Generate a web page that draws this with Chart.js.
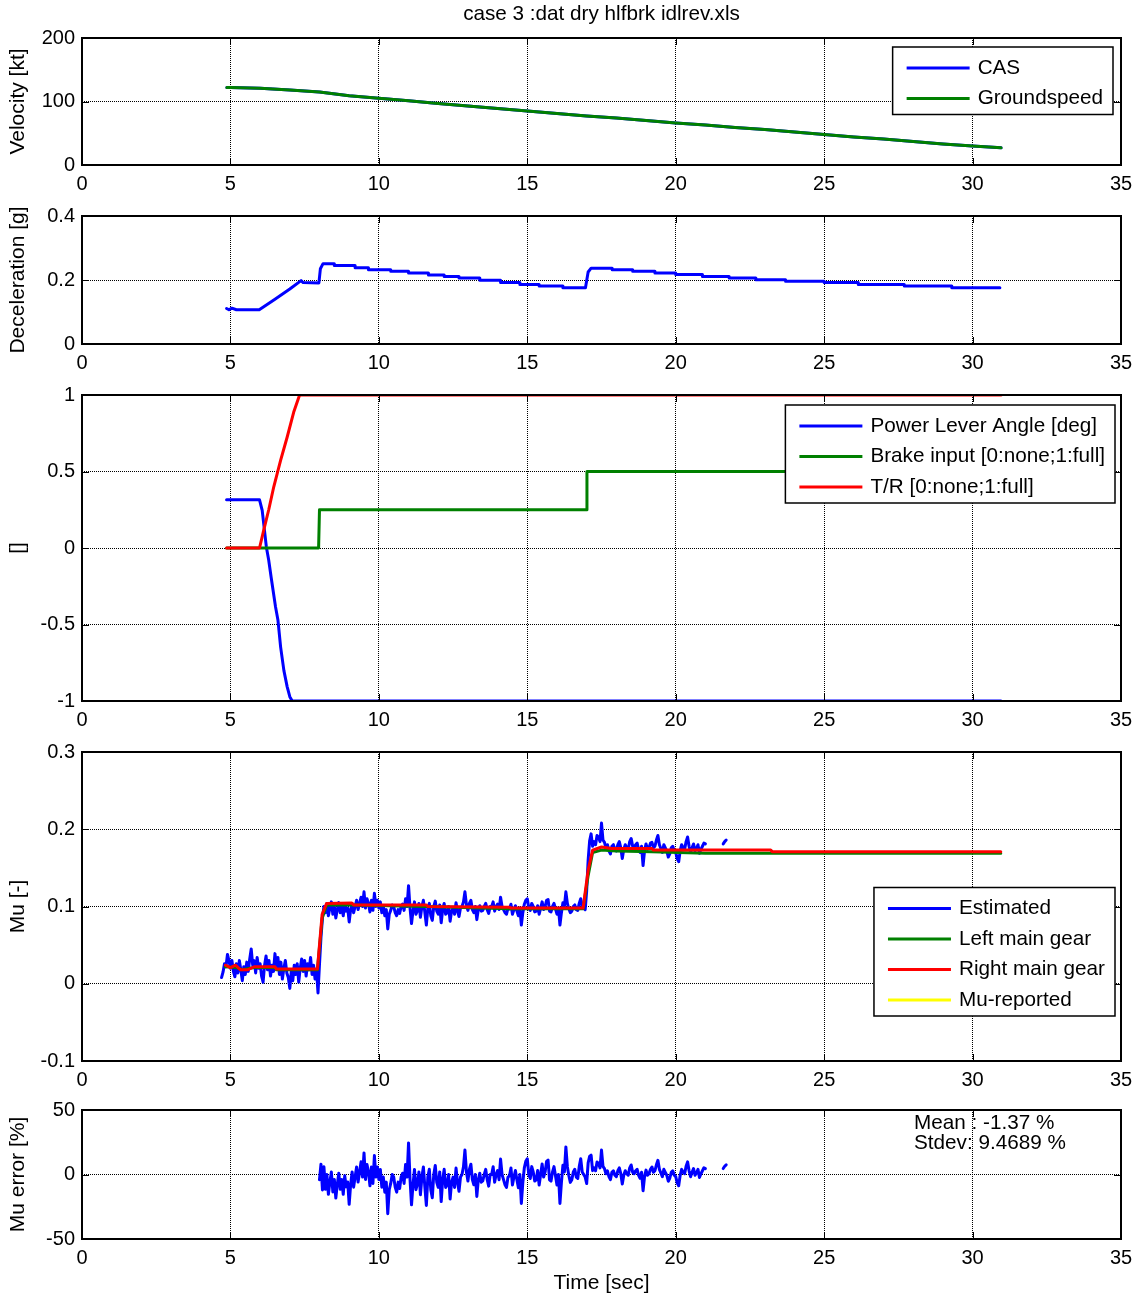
<!DOCTYPE html>
<html>
<head>
<meta charset="utf-8">
<title>case 3 :dat dry hlfbrk idlrev.xls</title>
<script src="https://cdn.jsdelivr.net/npm/chart.js@4.4.1/dist/chart.umd.min.js"></script>
<style>
  body { margin: 0; background: #fff; width: 1143px; height: 1302px; position: relative; overflow: hidden; }
  canvas { position: absolute; left: 0; }
</style>
</head>
<body>
<canvas id="velChart"></canvas>
<canvas id="decelChart"></canvas>
<canvas id="ctrlChart"></canvas>
<canvas id="muChart"></canvas>
<canvas id="errChart"></canvas>
<script>
// ---- run data (time in sec) ----
var velT  = [4.88, 5, 6, 7, 8, 9, 10, 11, 12, 13, 14, 15, 16, 17, 18, 19, 20, 21, 22, 23, 24, 25, 26, 27, 28, 29, 30, 30.96];
var casKt = [122, 122, 121, 118, 115, 109, 105, 101, 97, 93, 89, 85, 81, 77, 74, 70, 66, 63, 59, 56, 52, 48, 44, 41, 37, 33, 30, 27];
var gsKt  = [122, 122, 121, 118, 115, 109, 105, 101, 97, 93, 89, 85, 81, 77, 74, 70, 66, 63, 59, 56, 52, 48, 44, 41, 37, 33, 30, 27];

var decelT = [4.87, 4.95, 5.05, 5.2, 5.97, 6.5, 7.0, 7.38, 7.45, 7.98, 8.03, 8.12, 8.5, 8.5, 9.2, 9.2, 9.65, 9.65, 10.4, 10.4, 11.0, 11.0, 11.67, 11.67, 12.2, 12.2, 12.7, 12.7, 13.4, 13.4, 14.1, 14.1, 14.75, 14.75, 15.4, 15.4, 16.2, 16.2, 16.96, 17.05, 17.15, 17.86, 17.86, 18.55, 18.55, 19.3, 19.3, 20.0, 20.0, 20.9, 20.9, 21.8, 21.8, 22.7, 22.7, 23.7, 23.7, 25.0, 25.0, 26.15, 26.15, 27.7, 27.7, 29.3, 29.3, 30.92];
var decelG = [0.111, 0.107, 0.112, 0.107, 0.107, 0.140, 0.172, 0.198, 0.192, 0.191, 0.235, 0.251, 0.251, 0.245, 0.245, 0.238, 0.238, 0.232, 0.232, 0.227, 0.227, 0.222, 0.222, 0.216, 0.216, 0.211, 0.211, 0.206, 0.206, 0.199, 0.199, 0.192, 0.192, 0.186, 0.186, 0.181, 0.181, 0.176, 0.176, 0.225, 0.237, 0.237, 0.232, 0.232, 0.227, 0.227, 0.222, 0.222, 0.217, 0.217, 0.211, 0.211, 0.206, 0.206, 0.201, 0.201, 0.196, 0.196, 0.192, 0.192, 0.186, 0.186, 0.181, 0.181, 0.176, 0.176];

var plaT   = [4.87, 5.98, 6.07, 6.21, 6.29, 6.37, 6.52, 6.60, 6.69, 6.80, 6.91, 7.00, 7.08, 30.96];
var plaVal = [0.315, 0.315, 0.246, 0.007, -0.08, -0.19, -0.385, -0.47, -0.646, -0.80, -0.906, -0.972, -1.0, -1.0];
var brakeT   = [4.87, 7.97, 8.0, 16.98, 17.01, 30.96];
var brakeVal = [0, 0, 0.25, 0.25, 0.5, 0.5];
var trT   = [4.87, 5.98, 6.12, 6.29, 6.46, 6.69, 6.91, 7.13, 7.33, 30.96];
var trVal = [0, 0, 0.115, 0.25, 0.40, 0.572, 0.724, 0.887, 1.0, 1.0];

// estimated mu, one sample every 0.05 s from 4.70 s (null = no estimate)
var muStart = 4.7, muStep = 0.05;
var muEst = [
  0.008, 0.015, 0.026, 0.022, 0.038, 0.030,
  0.020, 0.030, 0.016, 0.009, 0.026, 0.014, 0.030, 0.018, 0.004, 0.022, 0.012, 0.028, 0.016, 0.032, 0.045, 0.024, 0.030, 0.014, 0.034, 0.020,
  0.026, 0.010, 0.002, 0.024, 0.036, 0.018, 0.030, 0.010, 0.024, 0.016, 0.039, 0.022, 0.034, 0.012, 0.028, 0.006, 0.020, 0.030, 0.014, 0.008,
  -0.006, 0.016, 0.004, 0.024, 0.012, 0.026, 0.002, 0.020, 0.032, 0.016, 0.030, 0.010, 0.026, 0.018, 0.034, 0.012, 0.024, 0.006, 0.018, -0.012,
  0.025, 0.060, 0.085, 0.100, 0.092, 0.104, 0.088, 0.098, 0.106, 0.090, 0.100, 0.085, 0.096, 0.105, 0.092, 0.100, 0.088, 0.103, 0.094, 0.098,
  0.080, 0.096, 0.104, 0.092, 0.100, 0.108, 0.096, 0.104, 0.112, 0.100, 0.119, 0.098, 0.110, 0.104, 0.093, 0.108, 0.095, 0.117, 0.100, 0.108,
  0.098, 0.106, 0.092, 0.100, 0.088, 0.096, 0.071, 0.090, 0.095, 0.102, 0.100, 0.092, 0.088, 0.096, 0.091, 0.100, 0.103, 0.095, 0.110, 0.100,
  0.127, 0.098, 0.078, 0.094, 0.106, 0.090, 0.095, 0.104, 0.086, 0.100, 0.108, 0.092, 0.076, 0.098, 0.104, 0.088, 0.082, 0.100, 0.107, 0.094,
  0.090, 0.102, 0.079, 0.096, 0.104, 0.090, 0.092, 0.100, 0.081, 0.094, 0.098, 0.090, 0.105, 0.094, 0.087, 0.098, 0.100, 0.106, 0.119, 0.102,
  0.095, 0.104, 0.108, 0.096, 0.092, 0.100, 0.083, 0.096, 0.101, 0.094, 0.095, 0.100, 0.104, 0.096, 0.091, 0.100, 0.100, 0.106, 0.094, 0.100,
  0.103, 0.096, 0.112, 0.100, 0.096, 0.092, 0.090, 0.098, 0.097, 0.103, 0.090, 0.096, 0.101, 0.094, 0.088, 0.098, 0.076, 0.092, 0.103, 0.108,
  0.110, 0.098, 0.095, 0.104, 0.100, 0.093, 0.094, 0.101, 0.090, 0.098, 0.106, 0.096, 0.100, 0.108, 0.109, 0.094, 0.093, 0.100, 0.104, 0.097,
  0.090, 0.098, 0.076, 0.092, 0.105, 0.100, 0.119, 0.104, 0.097, 0.092, 0.094, 0.100, 0.102, 0.096, 0.095, 0.104, 0.110, 0.100, 0.098, 0.096,
  0.120, 0.160, 0.185, 0.194, 0.178, 0.184, 0.180, 0.192, 0.190, 0.184, 0.208, 0.186, 0.183, 0.176, 0.180, 0.172, 0.168, 0.178, 0.180, 0.174,
  0.172, 0.180, 0.184, 0.176, 0.162, 0.174, 0.180, 0.176, 0.174, 0.184, 0.188, 0.178, 0.176, 0.180, 0.182, 0.174, 0.170, 0.178, 0.153, 0.172,
  0.181, 0.174, 0.176, 0.182, 0.183, 0.176, 0.178, 0.186, 0.192, 0.180, 0.175, 0.170, 0.180, 0.176, 0.172, 0.164, 0.168, 0.176, 0.178, 0.172,
  0.170, 0.162, 0.158, 0.172, 0.180, 0.176, 0.174, 0.184, 0.190, 0.178, 0.170, 0.176, 0.181, 0.172, 0.175, 0.180, 0.169, 0.174, 0.178, 0.182,
  0.181, null, null, null, null, null, null, null, null, null, null, null, 0.181, 0.184, 0.186
];
var leftT  = [4.83, 5.2, 5.4, 5.8, 6.5, 6.55, 7.93, 8.09, 8.24, 9.1, 11.6, 14.4, 16.88, 17.05, 17.2, 17.5, 18.0, 19.2, 21.0, 30.95];
var leftMu = [0.022, 0.021, 0.018, 0.021, 0.021, 0.018, 0.018, 0.085, 0.102, 0.102, 0.100, 0.097, 0.097, 0.140, 0.170, 0.173, 0.172, 0.171, 0.169, 0.169];
var rightT  = [4.83, 5.0, 5.17, 5.34, 5.57, 5.8, 6.5, 6.55, 7.93, 8.09, 8.24, 9.09, 9.15, 11.6, 11.65, 14.4, 14.45, 16.88, 17.05, 17.2, 17.5, 17.84, 19.2, 19.25, 23.2, 23.25, 30.95];
var rightMu = [0.024, 0.021, 0.024, 0.018, 0.018, 0.022, 0.022, 0.019, 0.019, 0.090, 0.104, 0.1045, 0.102, 0.102, 0.100, 0.099, 0.098, 0.098, 0.147, 0.173, 0.177, 0.175, 0.175, 0.173, 0.173, 0.171, 0.171];

// mu error [%], one sample every 0.05 s from 8.00 s
var errStart = 8.0, errStep = 0.05;
var errPct = [
  -4, 8, -12, 6, -11.5, 0, -15.4, -5.8, 1.9, -13.5, -3.8, -18.3, -7.7, 1.0, -11.5, -3.8, -15.4, -1.0, -9.6, -5.8,
  -23.1, -7.7, 2.0, -9.8, -2.0, 5.9, -5.9, 2.0, 9.8, -2.0, 16.7, -3.9, 7.8, 2.0, -8.8, 5.9, -6.9, 14.7, -2.0, 5.9,
  -3.9, 3.9, -9.8, -2.0, -13.7, -5.9, -30.4, -11.8, -6.9, 0, -2.0, -9.8, -13.7, -5.9, -10.8, -2.0, 1.0, -6.9, 7.8, -2.0,
  24.5, -3.9, -23.5, -7.8, 3.9, -11.8, -6.9, 2.0, -15.7, -2.0, 5.9, -9.8, -24, -2, 4, -12, -18, 0, 7, -6,
  -10, 2, -21, -4, 4, -10, -8, 0, -19, -6, -2, -10, 5, -6, -13, -2, 0, 6, 19, 2,
  -5, 4, 8, -4, -8, 0, -17, -4, 1, -6, -5, 0, 4, -4, -9, 0, 0, 6, -6, 0,
  3, -4, 12, 0, -4, -8, -10, -2, -1, 5.1, -8.2, -2, 3.1, -4.1, -10.2, 0, -22.4, -6.1, 5.1, 10.2,
  12.2, 0, -3.1, 6.1, 2.0, -5.1, -4.1, 3.1, -8.2, 0, 8.2, -2.0, 2.0, 10.2, 11.2, -4.1, -5.1, 2.0, 6.1, -1.0,
  -8.2, 0, -22.4, -6.1, 7.1, 2.0, 21.4, 6.1, -1.0, -6.1, -4.1, 2.0, 4.1, -2.0, -3.1, 6.1, 12.2, 2.0, 0, -2,
  -7, 9, 14, 15, 3, 5.1, 2.9, 9.7, 8.6, 5.1, 18.9, 6.3, 4.6, 0.6, 2.9, -1.7, -4.0, 1.7, 2.9, -0.6,
  -1.7, 2.9, 5.1, 0.6, -7.4, -0.6, 2.9, 0.6, -0.6, 5.1, 7.4, 1.7, 0.6, 2.9, 4.0, -0.6, -2.9, 1.7, -12.6, -1.7,
  3.4, -0.6, 0.6, 4.0, 5.8, 1.7, 2.9, 7.5, 11.0, 4.0, 1.2, -1.7, 4.0, 1.7, -0.6, -5.2, -2.9, 1.7, 2.9, -0.6,
  -1.7, -6.4, -8.7, -0.6, 4.0, 1.7, 0.6, 6.4, 9.8, 2.9, -1.7, 1.7, 4.6, -0.6, 1.2, 4.0, -2.3, 0.6, 2.9, 5.2,
  4.6, null, null, null, null, null, null, null, null, null, null, null, 4.6, 6.4, 7.5
];
var errNotes = ['Mean : -1.37 %', 'Stdev: 9.4689 %'];

var BLUE = '#0000ff', GREEN = '#008000', RED = '#ff0000', YELLOW = '#ffff00';
var FONT = '"Liberation Sans", Arial, Helvetica, sans-serif';

function pts(xs, ys) {
  return xs.map(function (x, i) { return {x: x, y: ys[i]}; });
}
function sampled(t0, dt, ys) {
  return ys.map(function (y, i) { return {x: +(t0 + i * dt).toFixed(2), y: y}; });
}

Chart.defaults.font.family = FONT;
Chart.defaults.font.size = 20;
Chart.defaults.color = '#000';

// box, inner tick marks, in-axes legend and text, like a matlab axes
var matlabAxes = {
  id: 'matlabAxes',
  afterDraw: function (chart, args, opts) {
    var ctx = chart.ctx, a = chart.chartArea, sx = chart.scales.x, sy = chart.scales.y;
    var tl = 7;
    ctx.save();
    ctx.strokeStyle = '#000';
    ctx.lineWidth = 1;
    ctx.beginPath();
    sx.ticks.forEach(function (t) {
      var px = Math.round(sx.getPixelForValue(t.value)) + 0.5;
      ctx.moveTo(px, a.bottom); ctx.lineTo(px, a.bottom - tl);
      ctx.moveTo(px, a.top); ctx.lineTo(px, a.top + tl);
    });
    sy.ticks.forEach(function (t) {
      var py = Math.round(sy.getPixelForValue(t.value)) + 0.5;
      ctx.moveTo(a.left, py); ctx.lineTo(a.left + tl, py);
      ctx.moveTo(a.right, py); ctx.lineTo(a.right - tl, py);
    });
    ctx.stroke();
    ctx.lineWidth = 2;
    ctx.strokeRect(a.left, a.top, a.right - a.left, a.bottom - a.top);

    ctx.font = '20.7px ' + FONT;
    ctx.fillStyle = '#000';
    ctx.textBaseline = 'middle';

    if (opts.title) {
      ctx.textAlign = 'center';
      ctx.fillText(opts.title, (a.left + a.right) / 2, a.top - 24);
    }

    if (opts.legend) {
      var L = opts.legend;
      var items = chart.data.datasets.filter(function (d) { return d.label; });
      var tw = 0;
      items.forEach(function (d) { tw = Math.max(tw, ctx.measureText(d.label).width); });
      var rowH = 30.5;
      var w = 14 + 63 + 8 + tw + 10;
      var h = 21 + (items.length - 1) * rowH + 16;
      var x0 = a.right - L.right - w;
      var y0 = L.top !== undefined ? a.top + L.top : a.bottom - L.bottom - h;
      ctx.fillStyle = '#fff';
      ctx.fillRect(x0, y0, w, h);
      ctx.lineWidth = 1.5;
      ctx.strokeRect(x0, y0, w, h);
      ctx.textAlign = 'left';
      items.forEach(function (d, i) {
        var cy = y0 + 21 + i * rowH;
        ctx.strokeStyle = d.borderColor;
        ctx.lineWidth = 3;
        ctx.beginPath();
        ctx.moveTo(x0 + 14, cy); ctx.lineTo(x0 + 77, cy);
        ctx.stroke();
        ctx.fillStyle = '#000';
        ctx.fillText(d.label, x0 + 85, cy);
      });
    }

    if (opts.notes) {
      ctx.textAlign = 'left';
      ctx.fillStyle = '#000';
      opts.notes.lines.forEach(function (s, i) {
        ctx.fillText(s, a.left + opts.notes.left, a.top + opts.notes.top + i * 20);
      });
    }
    ctx.restore();
  }
};
Chart.register(matlabAxes);

function yFmt(v) { return String(+v.toFixed(2)); }

function panel(id, top, padTop, plotH, xAxisH, yRange, yTitle, datasets, extra, xTitle) {
  var cv = document.getElementById(id);
  cv.width = 1143;
  cv.height = padTop + plotH + xAxisH;
  cv.style.top = top + 'px';
  var xScale = {
    type: 'linear', min: 0, max: 35,
    ticks: { stepSize: 5, maxRotation: 0, padding: 7 },
    grid: { color: '#000', lineWidth: 1, drawTicks: false },
    border: { display: false, dash: [1, 1] },
    afterFit: function (s) { s.height = xAxisH; }
  };
  if (xTitle) xScale.title = { display: true, text: xTitle, font: { size: 21 }, padding: { top: 0, bottom: 6 } };
  return new Chart(cv, {
    type: 'line',
    data: { datasets: datasets },
    options: {
      responsive: false,
      animation: false,
      devicePixelRatio: 1,
      layout: { padding: { top: padTop, right: 22, left: 0, bottom: 0 } },
      elements: { point: { radius: 0 }, line: { borderWidth: 3, tension: 0, borderJoinStyle: 'round', borderCapStyle: 'round' } },
      plugins: { legend: { display: false }, tooltip: { enabled: false }, matlabAxes: extra },
      scales: {
        x: xScale,
        y: {
          min: yRange[0], max: yRange[1],
          ticks: { stepSize: yRange[2], padding: 7, callback: yFmt },
          grid: { color: '#000', lineWidth: 1, drawTicks: false },
          border: { display: false, dash: [1, 1] },
          title: { display: true, text: yTitle, font: { size: 21 }, padding: { top: 6, bottom: 0 } },
          afterFit: function (s) { s.width = 82; }
        }
      }
    }
  });
}

function line(label, color, data, order) {
  return { label: label, data: data, borderColor: color, backgroundColor: color, fill: false, order: order, spanGaps: false };
}

panel('velChart', 0, 38, 127, 38, [0, 200, 100], 'Velocity [kt]', [
  line('CAS', BLUE, pts(velT, casKt), 1),
  line('Groundspeed', GREEN, pts(velT, gsKt), 0)
], { title: 'case 3 :dat dry hlfbrk idlrev.xls', legend: { right: 8, top: 9 } });

panel('decelChart', 197, 19, 128, 36, [0, 0.4, 0.2], 'Deceleration [g]', [
  line(null, BLUE, pts(decelT, decelG), 0)
], {});

panel('ctrlChart', 376, 19, 306, 36, [-1, 1, 0.5], '[]', [
  line('Power Lever Angle [deg]', BLUE, pts(plaT, plaVal), 2),
  line('Brake input [0:none;1:full]', GREEN, pts(brakeT, brakeVal), 1),
  line('T/R [0:none;1:full]', RED, pts(trT, trVal), 0)
], { legend: { right: 6, top: 10 } });

panel('muChart', 733, 19, 309, 36, [-0.1, 0.3, 0.1], 'Mu [-]', [
  line('Estimated', BLUE, sampled(muStart, muStep, muEst), 3),
  line('Left main gear', GREEN, pts(leftT, leftMu), 2),
  line('Right main gear', RED, pts(rightT, rightMu), 1),
  line('Mu-reported', YELLOW, [], 0)
], { legend: { right: 6, bottom: 45 } });

panel('errChart', 1091, 19, 129, 63, [-50, 50, 50], 'Mu error [%]', [
  line(null, BLUE, sampled(errStart, errStep, errPct), 0)
], { notes: { lines: errNotes, left: 832, top: 13 } }, 'Time [sec]');
</script>
</body>
</html>
